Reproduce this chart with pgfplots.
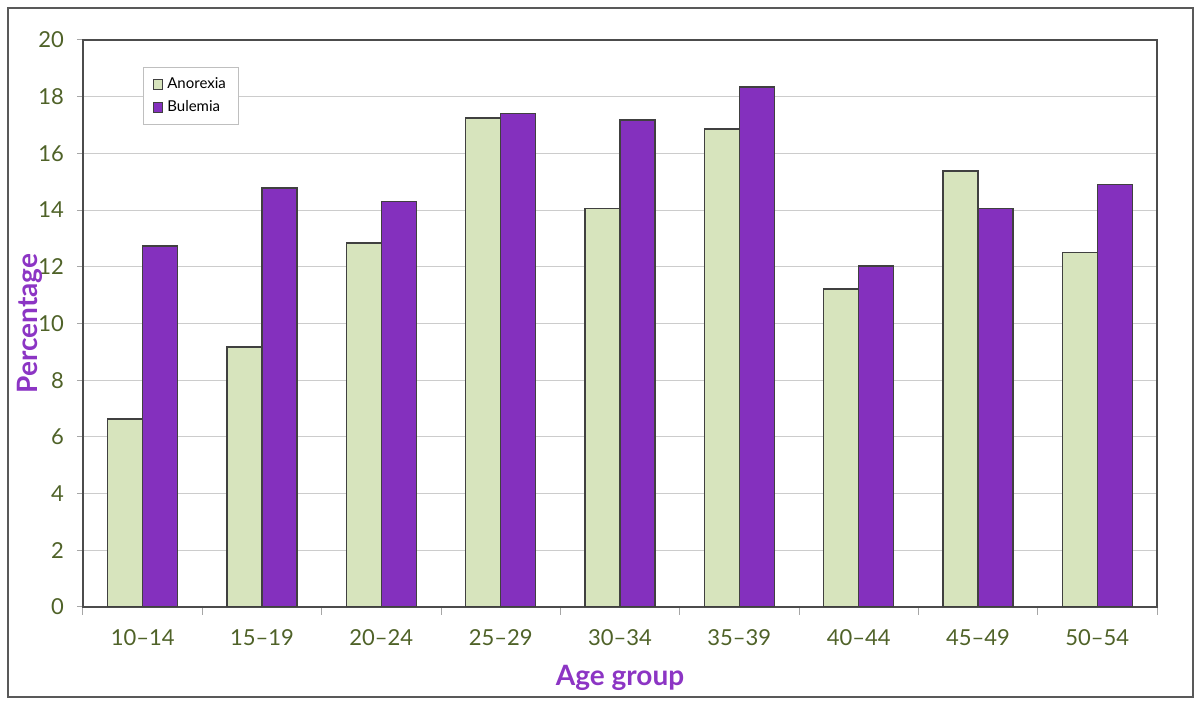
\documentclass[border=0pt]{standalone}
\usepackage{fontspec}
\setmainfont{Lato}
\usepackage{pgfplots}
\pgfplotsset{compat=1.18}
\definecolor{anor}{HTML}{D7E4BD}
\definecolor{bule}{HTML}{8430BE}
\definecolor{ticktxt}{HTML}{4F6228}
\definecolor{titlepurp}{HTML}{8C35C4}

\begin{document}
\begin{tikzpicture}[x=1pt,y=1pt]
\path[use as bounding box] (0,0) rectangle (600,352.5);
\draw[black!65, line width=0.8pt] (4,4) rectangle (596.5,348.5);
\begin{axis}[
  at={(41.5pt,49pt)}, anchor=south west,
  scale only axis, width=537pt, height=283.5pt,
  ybar, bar width=17.5pt,
  xmin=-0.5, xmax=8.5, ymin=0, ymax=20,
  xtick={0,...,8},
  xticklabels={10–14,15–19,20–24,25–29,30–34,35–39,40–44,45–49,50–54},
  minor xtick={-0.5,0.5,...,8.5},
  ytick={0,2,...,20},
  tick pos=lower, tick align=outside,
  major x tick style={draw=none},
  minor x tick style={draw=black!35, line width=0.5pt},
  major y tick style={draw=black!35, line width=0.5pt},
  major tick length=3pt, minor tick length=4pt,
  ymajorgrids, grid style={black!20, line width=0.4pt},
  axis line style={black!70, line width=0.8pt},
  /pgf/number format/assume math mode=true,
  ticklabel style={font=\fontsize{11}{13}\selectfont, text=ticktxt},
  xticklabel style={yshift=-5pt},
  yticklabel style={xshift=-3pt},
  xlabel={Age group}, ylabel={Percentage},
  label style={font=\bfseries\fontsize{14}{16}\selectfont, text=titlepurp},
  xlabel style={at={(axis description cs:0.5,0)}, anchor=center, yshift=-35.5pt},
  ylabel style={at={(axis description cs:0,0.5)}, anchor=center, yshift=26.5pt},
  legend style={at={(axis description cs:0.056,0.952)}, anchor=north west,
    draw=black!25, fill=white, font=\fontsize{7.5}{9}\selectfont,
    row sep=0.5pt, inner ysep=3pt, inner xsep=4.5pt},
  legend cell align=left,
]
\addplot[fill=anor, draw=black!75, line width=0.6pt, bar shift=-8.75pt, forget plot] coordinates {
  (0,6.63) (1,9.17) (2,12.84) (3,17.25) (4,14.07) (5,16.86) (6,11.22) (7,15.38) (8,12.49)};
\addplot[fill=bule, draw=black!75, line width=0.6pt, bar shift=8.75pt, forget plot] coordinates {
  (0,12.73) (1,14.78) (2,14.29) (3,17.42) (4,17.18) (5,18.34) (6,12.03) (7,14.07) (8,14.89)};
\addlegendimage{legend image code/.code={\draw[fill=anor, draw=black!75, line width=0.6pt] (0pt,-2.4pt) rectangle (4.8pt,2.4pt);}}
\addlegendentry{Anorexia}
\addlegendimage{legend image code/.code={\draw[fill=bule, draw=black!75, line width=0.6pt] (0pt,-2.4pt) rectangle (4.8pt,2.4pt);}}
\addlegendentry{Bulemia}
\end{axis}
\end{tikzpicture}
\end{document}
